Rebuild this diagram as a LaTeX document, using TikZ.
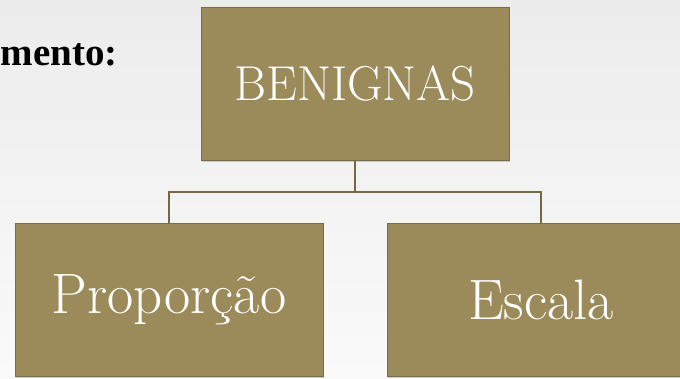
\documentclass[tikz,border=0pt]{standalone}
\usepackage{fontspec}
\newfontfamily\timesfont{Liberation Serif}
\usetikzlibrary{shadows}

\definecolor{caixa}{RGB}{155,138,90}
\definecolor{borda}{RGB}{122,108,70}
\definecolor{linha}{RGB}{120,104,66}
\definecolor{fundoA}{RGB}{236,236,236}
\definecolor{fundoB}{RGB}{250,250,250}

\tikzset{
	caixa/.style={fill=caixa, draw=borda, line width=0.8pt, inner sep=0pt,
		minimum width=308pt, minimum height=153pt, text=white,
		drop shadow={opacity=0.35, shadow xshift=1pt, shadow yshift=-2pt}},
	ligacao/.style={draw=linha, line width=1.6pt}
}

\begin{document}
\begin{tikzpicture}[x=1pt, y=-1pt]
	\shade[top color=fundoA, bottom color=fundoB] (0,0) rectangle (680,378);
	\useasboundingbox (0,0) rectangle (680,378);
	
	\node[anchor=base east, inner sep=0pt, font=\timesfont\bfseries\fontsize{39}{44}\selectfont] (titulo) at (118,65) {mento:};
	
	\node[caixa, font=\fontsize{49}{54}\selectfont] (benignas) at (355,83.5) {BENIGNAS};
	\node[caixa, font=\fontsize{57}{62}\selectfont] (proporcao) at (169,299.5) {Proporção};
	\node[caixa, font=\fontsize{57}{62}\selectfont] (escala) at (541,299.5) {Escala};
	
	\coordinate (meio) at (355,192);
	\draw[ligacao] (benignas.south) -- (meio) -| (proporcao.north);
	\draw[ligacao] (meio) -| (escala.north);

\end{tikzpicture}
\end{document}
